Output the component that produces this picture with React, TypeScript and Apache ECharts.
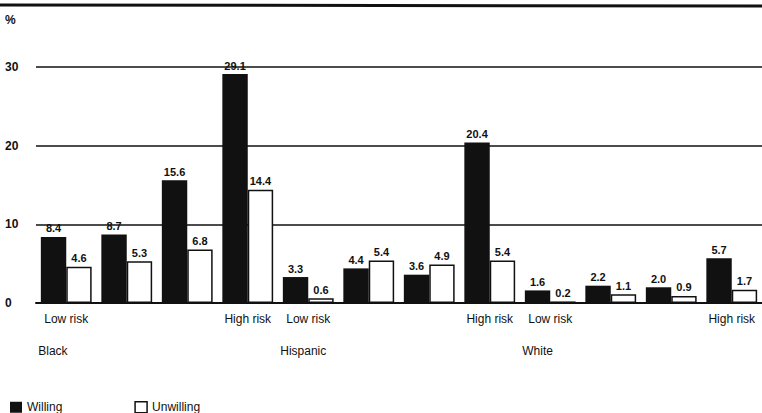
import React, { useEffect, useRef } from "react";
import * as echarts from "echarts";

const categories = [
  "Black-1", "Black-2", "Black-3", "Black-4",
  "Hispanic-1", "Hispanic-2", "Hispanic-3", "Hispanic-4",
  "White-1", "White-2", "White-3", "White-4",
];
const riskLabels = ["Low risk", "", "", "High risk"];
const groupNames = ["Black", "Hispanic", "White"];
const willing = [8.4, 8.7, 15.6, 29.1, 3.3, 4.4, 3.6, 20.4, 1.6, 2.2, 2.0, 5.7];
const unwilling = [4.6, 5.3, 6.8, 14.4, 0.6, 5.4, 4.9, 5.4, 0.2, 1.1, 0.9, 1.7];
const yTicks = [0, 10, 20, 30];

const FONT = "'Liberation Sans', Arial, sans-serif";

export default function App() {
  const ref = useRef<HTMLDivElement>(null);
  useEffect(() => {
    if (!ref.current) return;
    const chart = echarts.init(ref.current, null, { renderer: "svg" });
    chart.setOption({
      animation: false,
      backgroundColor: "#fff",
      textStyle: { fontFamily: FONT },
      grid: { left: 36, right: 0, top: 67, bottom: 110 },
      legend: {
        left: 5,
        top: 396,
        itemWidth: 12,
        itemHeight: 11,
        itemGap: 72,
        icon: "rect",
        textStyle: { fontFamily: FONT, fontSize: 12, color: "#111" },
        data: [
          { name: "Willing", itemStyle: { color: "#111" } },
          { name: "Unwilling", itemStyle: { color: "#fff", borderColor: "#111", borderWidth: 1.5 } },
        ],
      },
      graphic: [
        {
          type: "line",
          shape: { x1: 0, y1: 5, x2: 762, y2: 6 },
          style: { stroke: "#111", lineWidth: 3 },
        },
        {
          type: "text",
          left: 5,
          top: 14,
          style: { text: "%", font: `bold 12px ${FONT}`, fill: "#111" },
        },
      ],
      xAxis: {
        type: "category",
        data: categories,
        axisLine: { lineStyle: { color: "#111", width: 2 } },
        axisTick: { show: false },
        axisLabel: {
          interval: 0,
          margin: 8,
          color: "#111",
          fontFamily: FONT,
          fontSize: 12,
          formatter: (_v: string, i: number) => {
            const r = riskLabels[i % 4];
            if (i % 4 === 0) {
              return `{a|${r}}\n{g|${groupNames[Math.floor(i / 4)]}}`;
            }
            return r ? `{a|${r}}` : "";
          },
          rich: {
            a: { fontSize: 12, lineHeight: 16, color: "#111", fontFamily: FONT },
            g: { fontSize: 12, lineHeight: 48, width: 56, align: "left", color: "#111", fontFamily: FONT },
          },
        },
      },
      yAxis: {
        type: "value",
        min: 0,
        max: 30,
        interval: 10,
        axisLine: { show: false },
        axisTick: { show: false },
        splitLine: { lineStyle: { color: "#111", width: 1.5 } },
        axisLabel: {
          align: "left",
          margin: 31,
          color: "#111",
          fontWeight: "bold",
          fontSize: 12,
          fontFamily: FONT,
          padding: [0, 0, 6, 0],
          formatter: (v: number) => (yTicks.includes(v) ? String(v) : ""),
        },
      },
      series: [
        {
          name: "Willing",
          type: "bar",
          data: willing,
          barGap: "0%",
          barCategoryGap: "16%",
          itemStyle: { color: "#111" },
          label: {
            show: true,
            position: "top",
            distance: 3,
            color: "#111",
            fontWeight: "bold",
            fontSize: 11,
            fontFamily: FONT,
            formatter: (p: any) => p.value.toFixed(1),
          },
        },
        {
          name: "Unwilling",
          type: "bar",
          data: unwilling,
          itemStyle: { color: "#fff", borderColor: "#111", borderWidth: 1.5 },
          label: {
            show: true,
            position: "top",
            distance: 3,
            color: "#111",
            fontWeight: "bold",
            fontSize: 11,
            fontFamily: FONT,
            formatter: (p: any) => p.value.toFixed(1),
          },
        },
      ],
    });
    return () => chart.dispose();
  }, []);
  return (
    <div
      ref={ref}
      style={{ position: "fixed", left: 0, top: 0, width: 762, height: 413 }}
    />
  );
}
